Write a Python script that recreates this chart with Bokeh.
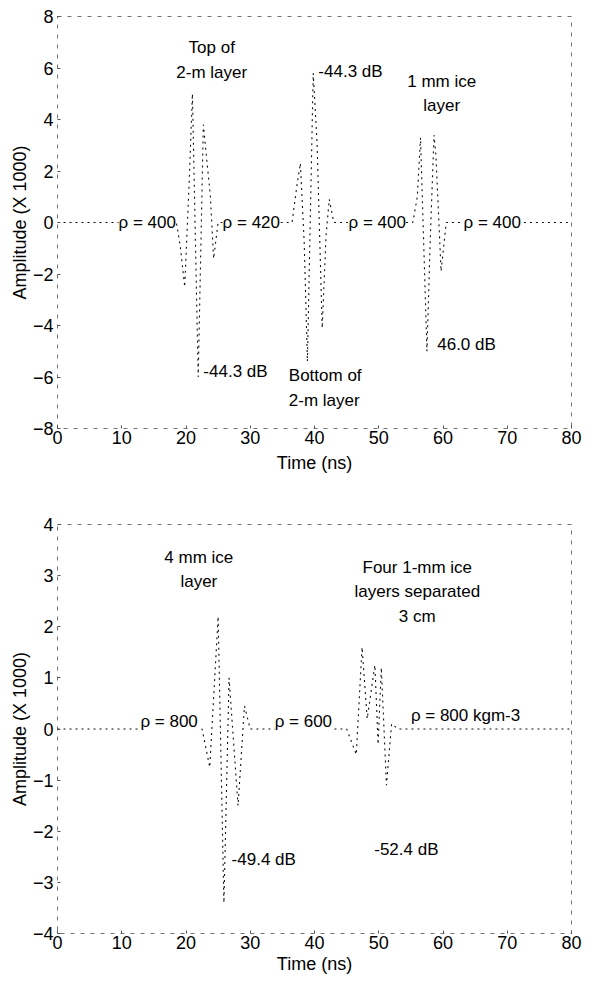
from bokeh.plotting import figure
from bokeh.models import Range1d, Label, FixedTicker
from bokeh.layouts import column
from bokeh.embed import file_html
from bokeh.resources import INLINE

# ---------------- data ----------------
x_ticks = [0, 10, 20, 30, 40, 50, 60, 70, 80]
top_y_ticks = [-8, -6, -4, -2, 0, 2, 4, 6, 8]
bot_y_ticks = [-4, -3, -2, -1, 0, 1, 2, 3, 4]

# upper trace: 2-m layer (rho 400/420) with 1 mm ice layer
top_time = [0, 18.5, 19.1, 19.8, 20.5, 21.0, 21.9, 22.7, 23.8, 24.3, 25.0,
            36.5, 37.3, 37.8, 38.4, 38.9, 39.8, 40.4, 41.2, 41.8, 42.3, 43.0,
            55.3, 56.0, 56.5, 57.5, 58.0, 58.6, 58.9, 59.7, 60.5, 80]
top_amp = [0, 0, -0.9, -2.5, 1.6, 5.0, -6.0, 3.8, 1.0, -1.4, 0,
           0, 1.5, 2.3, -0.8, -5.4, 5.8, 3.1, -4.1, -0.5, 0.9, 0,
           0, 1.0, 3.3, -5.0, -0.8, 3.4, 2.6, -1.9, 0, 0]

# lower trace: 4 mm ice layer and four 1-mm ice layers
bot_time = [0, 22.5, 23.7, 25.0, 25.9, 26.7, 28.1, 29.1, 30.0,
            45.0, 46.5, 47.4, 48.2, 49.4, 49.9, 50.4, 51.2, 52.0, 53.0, 80]
bot_amp = [0, 0, -0.75, 2.2, -3.4, 1.0, -1.5, 0.45, 0,
           0, -0.5, 1.6, 0.2, 1.25, -0.3, 1.2, -1.1, 0.1, 0, 0]

# annotations: text, x, y, align, baseline
top_notes = [
    ("Top of\n2-m layer", 24.0, 7.15, "center", "top"),
    ("-44.3 dB", 40.6, 5.86, "left", "middle"),
    ("1 mm ice\nlayer", 59.8, 5.86, "center", "top"),
    ("\u03c1 = 400", 9.5, 0.0, "left", "middle"),
    ("\u03c1 = 420", 25.7, 0.0, "left", "middle"),
    ("\u03c1 = 400", 45.3, 0.0, "left", "middle"),
    ("\u03c1 = 400", 63.2, 0.0, "left", "middle"),
    ("-44.3 dB", 22.7, -5.78, "left", "middle"),
    ("Bottom of\n2-m layer", 36.0, -5.59, "left", "top"),
    ("46.0 dB", 59.1, -4.73, "left", "middle"),
]
bot_notes = [
    ("4 mm ice\nlayer", 22.0, 3.55, "center", "top"),
    ("Four 1-mm ice\nlayers separated\n3 cm", 56.0, 3.35, "center", "top"),
    ("\u03c1 = 800", 12.9, 0.15, "left", "middle"),
    ("\u03c1 = 600", 33.8, 0.15, "left", "middle"),
    ("\u03c1 = 800 kgm-3", 55.0, 0.27, "left", "middle"),
    ("-49.4 dB", 27.1, -2.55, "left", "middle"),
    ("-52.4 dB", 49.3, -2.36, "left", "middle"),
]

FONT = "Liberation Sans"


def make_panel(times, amps, yticks, ylo, yhi, notes, height, bt, bb, xstand):
    p = figure(width=583, height=height, x_range=Range1d(0, 80),
               y_range=Range1d(ylo, yhi), output_backend="svg",
               toolbar_location=None, min_border_left=57,
               min_border_right=12, min_border_top=bt, min_border_bottom=bb)
    p.xgrid.visible = False
    p.ygrid.visible = False
    p.outline_line_color = "black"
    p.outline_line_dash = "4 6"
    p.outline_line_alpha = 0.55
    p.xaxis.ticker = FixedTicker(ticks=x_ticks)
    p.yaxis.ticker = FixedTicker(ticks=yticks)
    for ax in (p.xaxis[0], p.yaxis[0]):
        ax.axis_line_color = None
        ax.major_tick_in = 3
        ax.major_tick_out = 0
        ax.major_tick_line_color = "#555555"
        ax.minor_tick_line_color = None
        ax.major_label_text_font = FONT
        ax.major_label_text_font_size = "18px"
        ax.major_label_text_color = "black"
        ax.axis_label_text_font = FONT
        ax.axis_label_text_font_size = "18px"
        ax.axis_label_text_font_style = "normal"
        ax.axis_label_text_color = "black"
        ax.axis_label_standoff = 0
    p.xaxis.major_label_standoff = 2
    p.xaxis.axis_label_standoff = xstand
    p.yaxis.major_label_standoff = 4
    p.xaxis.axis_label = "Time (ns)"
    p.yaxis.axis_label = "Amplitude (X 1000)"
    p.line(times, amps, line_color="#111111", line_width=1.1,
           line_dash="2 4")
    for txt, x, y, al, bl in notes:
        p.add_layout(Label(x=x, y=y, text=txt, text_align=al,
                           text_baseline=bl, text_font=FONT,
                           text_font_size="17px", text_color="black",
                           text_line_height=1.3,
                           background_fill_color="white"))
    return p


p1 = make_panel(top_time, top_amp, top_y_ticks, -8, 8, top_notes, 480, 16, 52, 6)
p2 = make_panel(bot_time, bot_amp, bot_y_ticks, -4, 4, bot_notes, 500, 44, 47, 2)

layout = column(p1, p2)
open("out.html", "w").write(file_html(layout, INLINE))
